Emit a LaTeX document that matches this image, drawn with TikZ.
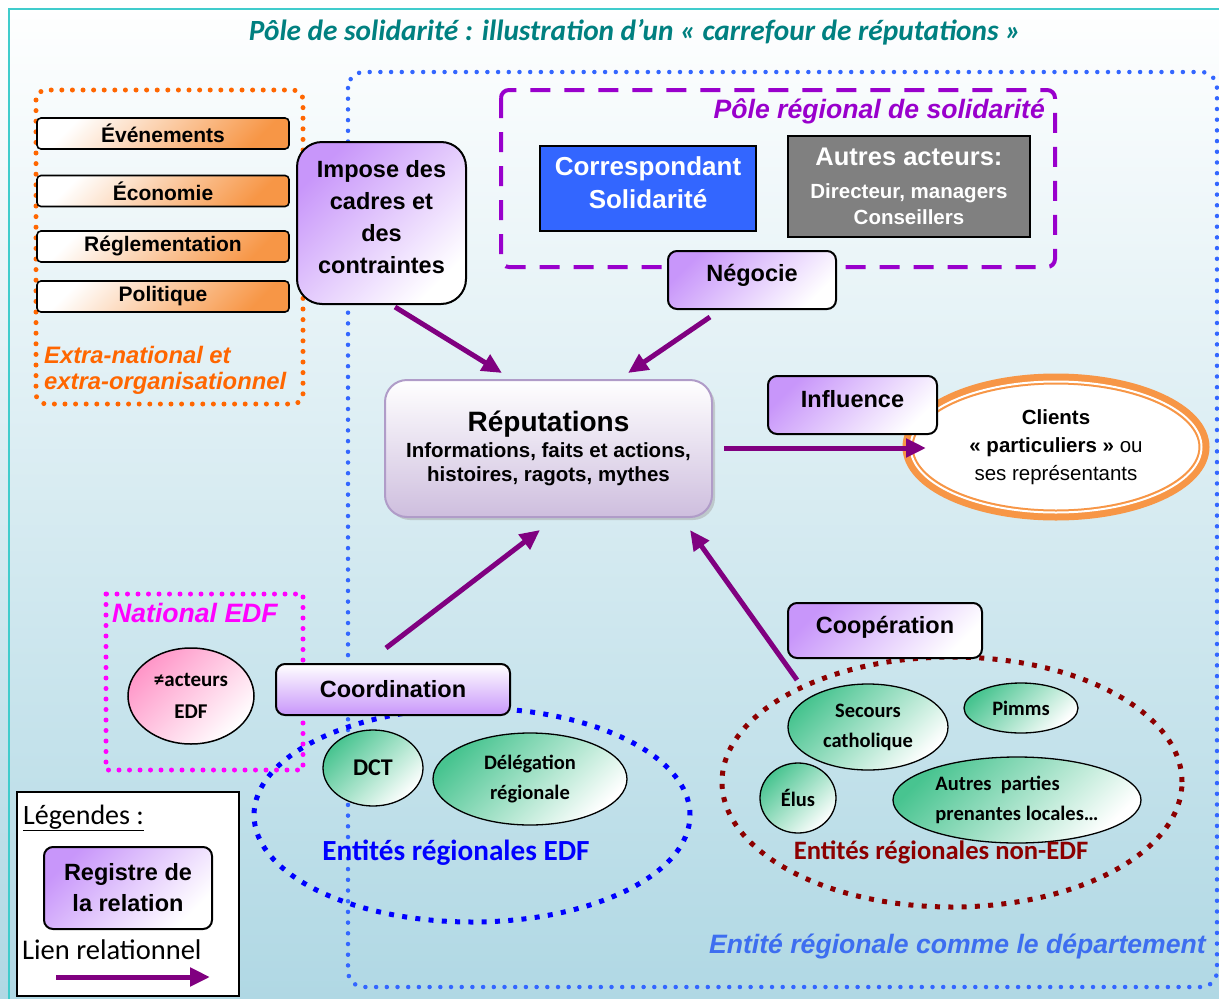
\documentclass[tikz,border=0pt]{standalone}
\usepackage{fontspec}
\setmainfont{Liberation Sans}
\newfontfamily\calib{Carlito}
\usetikzlibrary{arrows.meta,shapes.geometric,shadows}
\newcommand\myfs[2]{\fontsize{#1}{#2}\selectfont}
\definecolor{teal1}{RGB}{0,128,128}
\definecolor{frameC}{RGB}{64,204,204}
\definecolor{orngC}{RGB}{255,102,0}
\definecolor{boxO}{RGB}{247,150,70}
\definecolor{blueD}{RGB}{51,102,255}
\definecolor{purpD}{RGB}{153,0,204}
\definecolor{corrB}{RGB}{51,102,255}
\definecolor{grayB}{RGB}{128,128,128}
\definecolor{regP}{RGB}{200,150,250}
\definecolor{arrP}{RGB}{128,0,128}
\definecolor{magD}{RGB}{255,0,255}
\definecolor{pinkE}{RGB}{255,150,200}
\definecolor{grnE}{RGB}{72,196,144}
\definecolor{edfB}{RGB}{0,0,255}
\definecolor{nonR}{RGB}{140,0,0}
\definecolor{bgB}{RGB}{176,216,228}
\definecolor{bgM}{RGB}{230,241,245}
\definecolor{repB}{RGB}{176,156,200}
\definecolor{repF}{RGB}{206,190,222}
\definecolor{cliO}{RGB}{247,150,70}
\definecolor{entB}{RGB}{61,110,240}
\tikzset{
 reg/.style={draw=black, line width=2pt, rounded corners=9pt, top color=regP, bottom color=white, shading angle=45, align=center, font=\bfseries\myfs{23.5}{32}, inner sep=0pt},
 regrev/.style={reg, top color=white, bottom color=regP},
 regtxt/.style={align=center, font=\bfseries\myfs{23.5}{32}, inner sep=0pt},
 obox/.style={draw=black, line width=1.6pt, rounded corners=4pt, top color=white, bottom color=boxO, shading angle=45, minimum width=252pt, minimum height=31pt, font=\bfseries\myfs{21}{22}, inner sep=0pt},
 gell/.style={ellipse, draw=black, line width=1.3pt, top color=grnE, bottom color=white, shading angle=45, align=center, font=\calib\bfseries\myfs{20.5}{30}, inner sep=0pt},
 arr/.style={draw=arrP, line width=5pt, -{Triangle[length=20pt,width=18pt]}},
 dotline/.style={line width=5pt, line cap=round, dash pattern=on 0pt off 10.6pt},
 sqline/.style={line width=5pt, dash pattern=on 5pt off 8.3pt},
}
\begin{document}
\begin{tikzpicture}[x=1pt,y=-1pt]
\useasboundingbox (0,0) rectangle (1219,999);
% background
\fill[top color=white, middle color=bgM, bottom color=bgB] (0,0) rectangle (1219,999);
\draw[frameC, line width=2.5pt] (9,9) rectangle (1240,1020);
% title
\node[font=\calib\bfseries\itshape\myfs{29.3}{30}, text=teal1] (title) at (635,32) {Pôle de solidarité : illustration d’un « carrefour de réputations »};
% frames
\draw[orngC, dotline, rounded corners=10pt] (36,90) rectangle (303,404);
\draw[blueD, dotline, line width=4.5pt, dash pattern=on 0pt off 10.7pt, rounded corners=16pt] (348,72) rectangle (1217,987);
\draw[purpD, line width=4pt, dash pattern=on 20pt off 14pt, rounded corners=8pt] (501,90) rectangle (1055,267);
\draw[magD, dotline, dash pattern=on 0pt off 10.5pt] (106,594) rectangle (303,770);
\draw[edfB, sqline] (472,815) ellipse [x radius=218pt, y radius=107pt];
\draw[nonR, sqline] (952,782) ellipse [x radius=230pt, y radius=125pt];
% extra-national
\node[obox] (eve) at (163,133.5) {Événements};
\node[obox] (eco) at (163,191) {Économie};
\node[obox] (regl) at (163,246.5) {Réglementation};
\node[obox] (poli) at (163,296.5) {Politique};
\node[anchor=west, align=left, text=orngC, font=\bfseries\itshape\myfs{23.8}{26}, inner sep=0pt] (extra) at (44,370) {Extra-national et\\extra-organisationnel};
% pole regional
\node[anchor=east, text=purpD, font=\bfseries\itshape\myfs{26.6}{30}, inner sep=0pt] (polereg) at (1045,111) {Pôle régional de solidarité};
\node[draw=black, line width=2pt, fill=corrB, minimum width=216pt, minimum height=85pt, inner sep=0pt] (corr) at (648,188.5) {};
\node[text=white, font=\bfseries\myfs{26}{33}, align=center, inner sep=0pt] (corrt) at (648,182.5) {Correspondant\\Solidarité};
\node[draw=black, line width=2pt, fill=grayB, text=white, font=\bfseries\myfs{20.5}{26}, minimum width=242pt, minimum height=101pt, align=center, inner sep=0pt] (autres) at (909,186) {{\myfs{25.5}{26}Autres acteurs:}\\[7pt]Directeur, managers\\Conseillers};
% register boxes
\node[reg, rounded corners=25pt, minimum width=169pt, minimum height=162pt] (impose) at (381.5,223) {};
\node[regtxt] (imposet) at (381.5,217.5) {Impose des\\cadres et\\des\\contraintes};
\node[reg, minimum width=168pt, minimum height=58pt] (nego) at (752,280) {};
\node[regtxt] (negot) at (752,275.5) {Négocie};
% reputations
\node[draw=repB, line width=2pt, rounded corners=22pt, top color=white, bottom color=repF, minimum width=327pt, minimum height=137pt, align=center, inner sep=0pt, font=\bfseries\myfs{20.5}{24}, drop shadow={shadow xshift=3pt, shadow yshift=-3pt, fill=black!35}] (rep) at (548.5,448.5) {{\myfs{28}{30}Réputations}\\[2pt]Informations, faits et actions,\\histoires, ragots, mythes};
% clients
\node[ellipse, draw=cliO, line width=11pt, fill=white, minimum width=296pt, minimum height=136pt, align=center, inner sep=0pt, font=\myfs{20.5}{28}] (cli) at (1056,447) {\textbf{Clients}\\\textbf{« particuliers »} ou\\ses représentants};
\draw[white, line width=2pt] (cli.center) ellipse [x radius=145.5pt, y radius=65.5pt];
\node[reg, minimum width=169pt, minimum height=58pt] (infl) at (852.5,405) {};
\node[regtxt] (inflt) at (852.5,399.5) {Influence};
% national EDF
\node[anchor=west, text=magD, font=\bfseries\itshape\myfs{26.6}{30}, inner sep=0pt] (natl) at (112,613) {National EDF};
\node[ellipse, draw=black, line width=1.5pt, top color=pinkE, bottom color=white, shading angle=45, minimum width=126pt, minimum height=96pt, align=center, inner sep=0pt, font=\calib\bfseries\myfs{21}{32}] (acteurs) at (191,696) {≠acteurs\\EDF};
% EDF regional
\node[gell, minimum width=100pt, minimum height=76pt, font=\calib\bfseries\myfs{24}{30}] (dct) at (373,768) {DCT};
\node[gell, minimum width=194pt, minimum height=92pt] (deleg) at (530,779) {Délégation\\régionale};
\node[text=edfB, font=\calib\bfseries\myfs{29.2}{30}, inner sep=0pt] (entedf) at (456,853) {Entités régionales EDF};
\node[regrev, minimum width=234pt, minimum height=51pt] (coord) at (393,689.5) {Coordination};
% non EDF
\node[gell, minimum width=160pt, minimum height=86pt] (secours) at (868,727) {Secours\\catholique};
\node[gell, minimum width=114pt, minimum height=50pt] (pimms) at (1021,708) {Pimms};
\node[gell, minimum width=76pt, minimum height=70pt] (elus) at (798,798) {Élus};
\node[gell, minimum width=248pt, minimum height=86pt, align=left] (autresp) at (1017,800) {Autres\ \ parties\\prenantes locales…};
\node[text=nonR, font=\calib\bfseries\myfs{26.6}{30}, inner sep=0pt] (entnon) at (941,852) {Entités régionales non-EDF};
\node[reg, minimum width=194pt, minimum height=55pt] (coop) at (885,630.5) {};
\node[regtxt] (coopt) at (885,627) {Coopération};
% departement
\node[anchor=east, text=entB, font=\bfseries\itshape\myfs{26.6}{30}, inner sep=0pt] (entdep) at (1206,946) {Entité régionale comme le département};
% arrows
\coordinate (a1s) at (395,307); \coordinate (a1e) at (502,373);
\coordinate (a2s) at (710,317); \coordinate (a2e) at (628,373);
\coordinate (a3s) at (724,448); \coordinate (a3e) at (926,448);
\coordinate (a4s) at (386,648); \coordinate (a4e) at (540,530);
\coordinate (a5s) at (797,680); \coordinate (a5e) at (690,530);
\draw[arr] (a1s) -- (a1e);
\draw[arr] (a2s) -- (a2e);
\draw[arr] (a3s) -- (a3e);
\draw[arr] (a4s) -- (a4e);
\draw[arr] (a5s) -- (a5e);
% legend
\node[draw=black, line width=2pt, fill=white, minimum width=222pt, minimum height=204pt, inner sep=0pt] (leg) at (128,894) {};
\node[anchor=base west, font=\calib\myfs{28}{30}, inner sep=0pt] (legt) at (23,824) {\underline{Légendes :}};
\node[reg, minimum width=168pt, minimum height=82pt, font=\bfseries\myfs{23.5}{31}] (legreg) at (128,888) {Registre de\\la relation};
\node[anchor=base west, font=\calib\myfs{28.5}{30}, inner sep=0pt] (lien) at (22,959) {Lien relationnel};
\coordinate (la) at (56,977); \coordinate (lb) at (210,977);
\draw[arr] (la) -- (lb);
\end{tikzpicture}
\end{document}
